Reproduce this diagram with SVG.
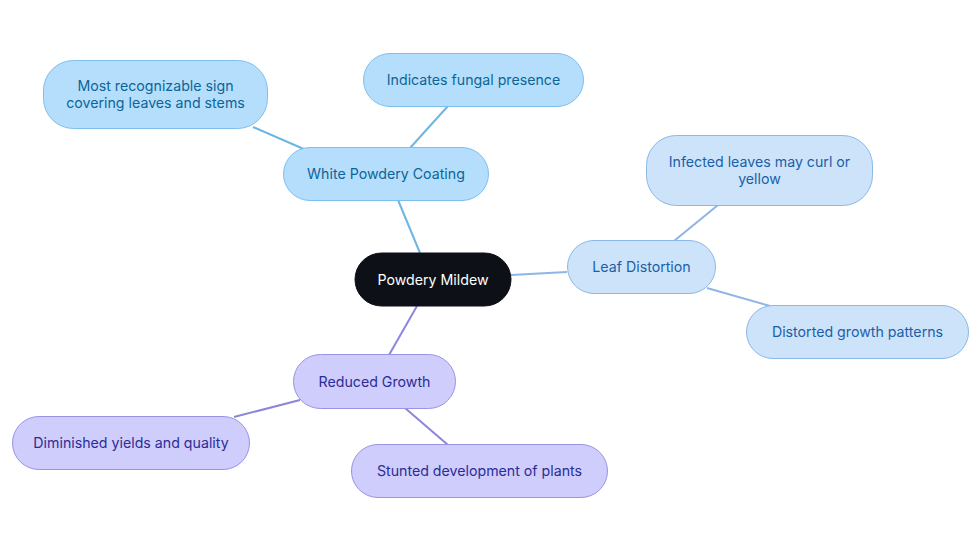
<svg xmlns="http://www.w3.org/2000/svg" width="980" height="553" viewBox="0 0 980 553">
<style>
text{font-family:Inter,"Noto Sans",sans-serif;font-size:14.2px;text-anchor:middle;dominant-baseline:central}
.c rect{fill:#0d1117;stroke:#0d1117}
.c text{fill:#ffffff}
.b rect{fill:#b5defc;stroke:#7dc0ee;stroke-width:1}
.b text{fill:#0b6597}
.l rect{fill:#cde3fa;stroke:#8cb8e8;stroke-width:1}
.l text{fill:#1a5fa8}
.p rect{fill:#cfcdfc;stroke:#9a92e6;stroke-width:1}
.p text{fill:#2b2c96}
.eb{stroke:#6db5e2;stroke-width:2;fill:none}
.el{stroke:#8db5e6;stroke-width:2;fill:none}
.ep{stroke:#8c86da;stroke-width:2;fill:none}
</style>
<rect width="980" height="553" fill="#ffffff"/>
<g id="edges">
<line class="eb" x1="420" y1="253" x2="398" y2="200"/>
<line class="eb" x1="306" y1="150" x2="253" y2="127"/>
<line class="eb" x1="410" y1="148" x2="448" y2="106"/>
<line class="el" x1="511" y1="275" x2="567" y2="272"/>
<line class="el" x1="674" y1="241" x2="718" y2="205"/>
<line class="el" x1="707" y1="288" x2="770" y2="306"/>
<line class="ep" x1="417" y1="306" x2="389" y2="355"/>
<line class="ep" x1="300" y1="400" x2="234" y2="417"/>
<line class="ep" x1="405" y1="408" x2="448" y2="445"/>
</g>
<g id="n-center" class="c"><rect x="355" y="253" width="156" height="53" rx="26.5"/><text x="433" y="279">Powdery Mildew</text></g>
<g id="n-wpc" class="b"><rect x="283.5" y="147.5" width="205" height="53" rx="26.5"/><text x="386" y="173.5">White Powdery Coating</text></g>
<g id="n-most" class="b"><rect x="43.5" y="60.5" width="224" height="68" rx="30"/><text x="155.5" y="85.5">Most recognizable sign</text><text x="155.5" y="102.5">covering leaves and stems</text></g>
<g id="n-ind" class="b"><rect x="363.5" y="53.5" width="220" height="53" rx="26.5"/><text x="473.5" y="79.5">Indicates fungal presence</text></g>
<g id="n-leaf" class="l"><rect x="567.5" y="240.5" width="148" height="53" rx="26.5"/><text x="641.5" y="266.5">Leaf Distortion</text></g>
<g id="n-inf" class="l"><rect x="646.5" y="135.5" width="226" height="70" rx="30"/><text x="759.5" y="161.5">Infected leaves may curl or</text><text x="759.5" y="178.5">yellow</text></g>
<g id="n-dist" class="l"><rect x="746.5" y="305.5" width="222" height="53" rx="26.5"/><text x="857.5" y="331.5">Distorted growth patterns</text></g>
<g id="n-red" class="p"><rect x="293.5" y="354.5" width="162" height="54" rx="27"/><text x="374.5" y="381">Reduced Growth</text></g>
<g id="n-dim" class="p"><rect x="12.5" y="416.5" width="237" height="53" rx="26.5"/><text x="131" y="442.5">Diminished yields and quality</text></g>
<g id="n-stu" class="p"><rect x="351.5" y="444.5" width="256" height="53" rx="26.5"/><text x="479.5" y="470.5">Stunted development of plants</text></g>
</svg>
